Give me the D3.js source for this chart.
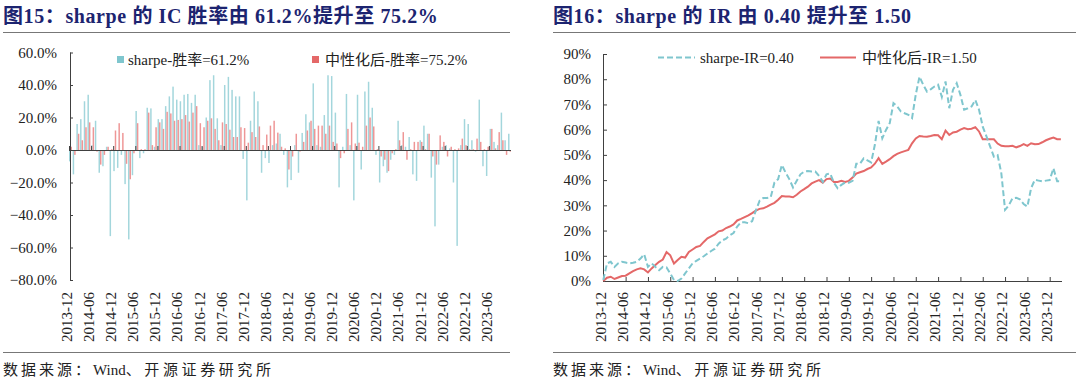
<!DOCTYPE html>
<html><head><meta charset="utf-8">
<script src="https://cdn.jsdelivr.net/npm/d3@7"></script>
<style>body{margin:0;background:#fff}svg{display:block}text{font-family:"Liberation Serif","Noto Sans CJK SC",serif}</style>
</head><body><svg id="c" width="1080" height="383"></svg>
<script>
// ---------- data ----------
const leftTickLabels = ["2013-12","2014-06","2014-12","2015-06","2015-12","2016-06","2016-12","2017-06","2017-12","2018-06","2018-12","2019-06","2019-12","2020-06","2020-12","2021-06","2021-12","2022-06","2022-12","2023-06"];
const rightTickLabels = ["2013-12","2014-06","2014-12","2015-06","2015-12","2016-06","2016-12","2017-06","2017-12","2018-06","2018-12","2019-06","2019-12","2020-06","2020-12","2021-06","2021-12","2022-06","2022-12","2023-06","2023-12"];
const leftYTicks = [-80,-60,-40,-20,0,20,40,60];
const rightYTicks = [0,10,20,30,40,50,60,70,80,90];
// monthly IC (%), 120 months
const sharpeIC = [-7,-15,16,19,30,34,3,18,-14,-10, 2,-53,-13,-11,-3,-21,-55,-15.5,24,-5,
 -2,26,25.6,2,19,19,27,33,39,31, 30,34,34.5,29,34,3,2,20,43,46,
 19.5,3,40,45,37,33,33,-5.5,-31,18, 36,30,-14,-5,-8,3,4,10,-3,-23,
 -18.5,3,-14,10.5,22,17,41,3,2,21.5, 46,45.5,23,-23,2,34.5,3,-31,34,-12,
 36,42,26,-3,-20,-10,-14,-6,-3,18, 3,2,8,-15,-19,6,15,10,-17,-47,
 -9,2,3,1,-20,-59,3,19,16,6, -1,31,-10,-16,13,5,3,23,6,10];
const neutralIC = [2,-3,10,6,14,17,14,-1,-9,-3, 2,0.5,12,16.5,10.5,-8.5,-18,-2,16.5,0.5,
 0.5,23,3,14,17,13,23.5,22.5,18,18.5, 19,21.5,17.5,23,27,16.5,14,18,19.5,13,
 6,17,16,12.5,8,8,14,13.5,4.5,11, 8,14.5,3,9.5,15,18,10.7,2,1,-12,
 -4,10,-1,5,12,18,13,15,15,10, 15,5,4,-5,-2,13,17,4,4.5,2,
 15,20,14.5,0.5,-4,-6,-13,-2,0.5,6, 11,-6,0.5,5,5,5,0.5,10,-4,-9,
 9,5,-4,2,0.5,1,7,3,0.5,0.5, 7,5,0.5,2,13,1,11,6,-3,-1];
// cumulative IR curves (%), 124 months
const sharpeIR = [0.4,7,7.6,5.6,7,7.6,7.3,7,7.2,7.6, 8.9,10.6,5.6,7,5.6,4.3,5.6,5.4,3,0.4,
 0,1,3,5,7,8,8.9,9.8,10.9,11.9, 12.8,14.8,16.1,16.8,18.1,19,21.6,23.3,23.3,22.9,
 23.7,27.9,31.8,32.9,32.9,33.2,39,40.4,46,43, 40.4,37.1,39.7,42.3,43.4,43.6,43.4,43.4,41.7,39.3,
 42.3,42.6,39,36.8,38.1,39,39,39.7,46.5,46.5, 48.6,47.8,47,54,63.5,56.6,59.9,62.6,70.5,69.2,
 67.2,66.5,65.9,64.6,74,81,77.8,75.1,76,77.1, 77.8,73,79.1,68.5,75.8,78.4,73.8,67.9,68.5,69.2,
 71.8,67.9,61.2,57.3,53.3,49.3,49.9,42.7,28.2,30, 32.8,33,32.4,30.5,29.5,36.8,40.1,39.8,39.5,39.8,
 40,44.7,39.5,39.5];
const neutralIR = [0,1.3,1.7,0.8,1.4,2,2.1,3,3.9,4.6, 5,4.6,3.4,5,6.3,7.6,8.5,11.5,10.2,6.9,
 8.3,9.6,9.3,11.5,12.5,13.5,13.9,15.5,16.9,17.7, 18.5,19.7,20,21,21.6,22.4,24,24.6,25.3,26,
 26.9,27.9,28.6,28.8,29.5,30.3,31,32.2,33.7,33.5, 33.5,33.2,34.2,35.5,36.4,37.4,38.7,39.4,40,39,
 40.4,40.6,39.3,39.3,39.7,39.3,39.7,41,42.6,43.1, 43.6,44.4,45,46.5,48.7,46.4,47.3,48.3,49.5,50.4,
 51,51.5,52,54.6,56.5,57.5,57.3,57.2,57.5,57.9, 57.8,56.2,59.6,57.9,58.9,59.2,60,60.6,60.2,60.4,
 61,59.3,56.2,56.2,56.2,56.2,54.5,53.6,53.4,53.4, 53.6,53,53.5,54.3,53.6,54.6,54.2,54.3,55,55.8,
 56.4,56.9,56.2,56.2];

// ---------- styles ----------
const BLUE = "#7fc6ce", RED = "#e46868", BLUE_BAR = "#a3d6dc", RED_BAR = "#ee9696", NAVY = "#1c2470", AX = "#404040";
const svg = d3.select("#c");

function header(x0, x1, title) {
  svg.append("text").attr("x", x0).attr("y", 23).attr("font-size", 20).attr("font-weight", "bold")
    .attr("letter-spacing", 0.6).attr("fill", NAVY).text(title);
  svg.append("line").attr("x1", x0).attr("x2", x1).attr("y1", 32.5).attr("y2", 32.5)
    .attr("stroke", "#777").attr("stroke-width", 1);
  svg.append("line").attr("x1", x0).attr("x2", x1).attr("y1", 352.5).attr("y2", 352.5)
    .attr("stroke", "#777").attr("stroke-width", 1);
  const ft = svg.append("text").attr("x", x0).attr("y", 375).attr("font-size", 15).attr("fill", "#222");
  ft.append("tspan").attr("letter-spacing", 3).text("数据来源：");
  ft.append("tspan").attr("letter-spacing", 0).text("Wind");
  ft.append("tspan").attr("letter-spacing", 3.6).text("、开源证券研究所");
}
header(3, 510, "图15：sharpe 的 IC 胜率由 61.2%提升至 75.2%");
header(553, 1076, "图16：sharpe 的 IR 由 0.40 提升至 1.50");

// ---------- left chart ----------
{
  const idx = d3.range(sharpeIC.length);
  const xb = d3.scaleBand().domain(idx).range([69, 511]).paddingInner(0.2);
  const xs = d3.scaleBand().domain(["s", "n"]).range([0, xb.bandwidth()]);
  const xl = d3.scaleLinear().domain([0, sharpeIC.length]).range([69, 511]);
  const y = d3.scaleLinear().domain([-80, 60]).range([280, 52.5]);
  const g = svg.append("g");
  g.selectAll("rect.s").data(sharpeIC).join("rect")
    .attr("x", (d, i) => xb(i) + xs("s")).attr("width", xs.bandwidth())
    .attr("y", d => y(Math.max(0, d))).attr("height", d => Math.abs(y(d) - y(0)))
    .attr("fill", BLUE_BAR);
  g.selectAll("rect.n").data(neutralIC).join("rect")
    .attr("x", (d, i) => xb(i) + xs("n")).attr("width", xs.bandwidth())
    .attr("y", d => y(Math.max(0, d))).attr("height", d => Math.abs(y(d) - y(0)))
    .attr("fill", RED_BAR);
  // y axis
  const ya = svg.append("g").attr("transform", "translate(70,0)")
    .call(d3.axisRight(y).tickValues(leftYTicks).tickSize(3).tickFormat(""));
  ya.select(".domain").attr("stroke", AX).attr("d", `M0.5,${y(60)}V${y(-80)}`);
  ya.selectAll(".tick line").attr("stroke", AX);
  svg.append("g").selectAll("text").data(leftYTicks).join("text")
    .attr("x", 57).attr("y", d => y(d)).attr("dy", "0.35em").attr("text-anchor", "end")
    .attr("font-size", 15).attr("fill", "#222").text(d => d3.format(".1f")(d) + "%");
  // x axis at zero
  const xa = svg.append("g").attr("transform", `translate(0,${y(0)})`)
    .call(d3.axisTop(xl).tickValues(d3.range(0, sharpeIC.length, 6)).tickSize(4).tickFormat(""));
  xa.select(".domain").attr("stroke", AX).attr("d", `M69,0.5H511`);
  xa.selectAll(".tick line").attr("stroke", AX);
  svg.append("g").selectAll("text").data(leftTickLabels).join("text")
    .attr("transform", (d, i) => `translate(${xl(i * 6) - 2.3},292) rotate(-90)`)
    .attr("dy", "0.35em").attr("text-anchor", "end").attr("font-size", 15).attr("fill", "#222").text(d => d);
  // legend
  const lg = svg.append("g").attr("font-size", 15).attr("fill", "#222");
  lg.append("rect").attr("x", 117).attr("y", 56).attr("width", 7).attr("height", 7).attr("fill", BLUE);
  lg.append("text").attr("x", 128).attr("y", 60).attr("dy", "0.35em").text("sharpe-胜率=61.2%");
  lg.append("rect").attr("x", 312).attr("y", 56).attr("width", 7).attr("height", 7).attr("fill", RED);
  lg.append("text").attr("x", 325).attr("y", 60).attr("dy", "0.35em").text("中性化后-胜率=75.2%");
}

// ---------- right chart ----------
{
  const n = sharpeIR.length;
  const x = d3.scaleLinear().domain([0, n - 1]).range([603.3, 603.3 + 3.72 * (n - 1)]);
  const y = d3.scaleLinear().domain([0, 90]).range([281, 54]);
  const ya = svg.append("g").attr("transform", "translate(603,0)")
    .call(d3.axisRight(y).tickValues(rightYTicks).tickSize(4).tickFormat(""));
  ya.select(".domain").attr("stroke", AX).attr("d", `M0.5,${y(90)}V${y(0)}`);
  ya.selectAll(".tick line").attr("stroke", AX);
  svg.append("g").selectAll("text").data(rightYTicks).join("text")
    .attr("x", 591).attr("y", d => y(d)).attr("dy", "0.35em").attr("text-anchor", "end")
    .attr("font-size", 15).attr("fill", "#222").text(d => d + "%");
  const xa = svg.append("g").attr("transform", `translate(0,${y(0)})`)
    .call(d3.axisTop(x).tickValues(d3.range(0, 121, 6)).tickSize(4).tickFormat(""));
  xa.select(".domain").attr("stroke", AX).attr("d", `M603,0.5H1062`);
  xa.selectAll(".tick line").attr("stroke", AX);
  svg.append("g").selectAll("text").data(rightTickLabels).join("text")
    .attr("transform", (d, i) => `translate(${x(i * 6) - 3},292) rotate(-90)`)
    .attr("dy", "0.35em").attr("text-anchor", "end").attr("font-size", 15).attr("fill", "#222").text(d => d);
  const line = d3.line().x((d, i) => x(i)).y(d => y(d));
  svg.append("path").datum(neutralIR).attr("d", line).attr("fill", "none")
    .attr("stroke", RED).attr("stroke-width", 2);
  svg.append("path").datum(sharpeIR).attr("d", line).attr("fill", "none")
    .attr("stroke", BLUE).attr("stroke-width", 2).attr("stroke-dasharray", "6,3");
  const lg = svg.append("g").attr("font-size", 15).attr("fill", "#222");
  lg.append("line").attr("x1", 658).attr("x2", 695).attr("y1", 57.5).attr("y2", 57.5)
    .attr("stroke", BLUE).attr("stroke-width", 2).attr("stroke-dasharray", "6,3");
  lg.append("text").attr("x", 700).attr("y", 57.5).attr("dy", "0.35em").text("sharpe-IR=0.40");
  lg.append("line").attr("x1", 820).attr("x2", 856).attr("y1", 57.5).attr("y2", 57.5)
    .attr("stroke", RED).attr("stroke-width", 2);
  lg.append("text").attr("x", 862).attr("y", 57.5).attr("dy", "0.35em").text("中性化后-IR=1.50");
}
</script></body></html>
